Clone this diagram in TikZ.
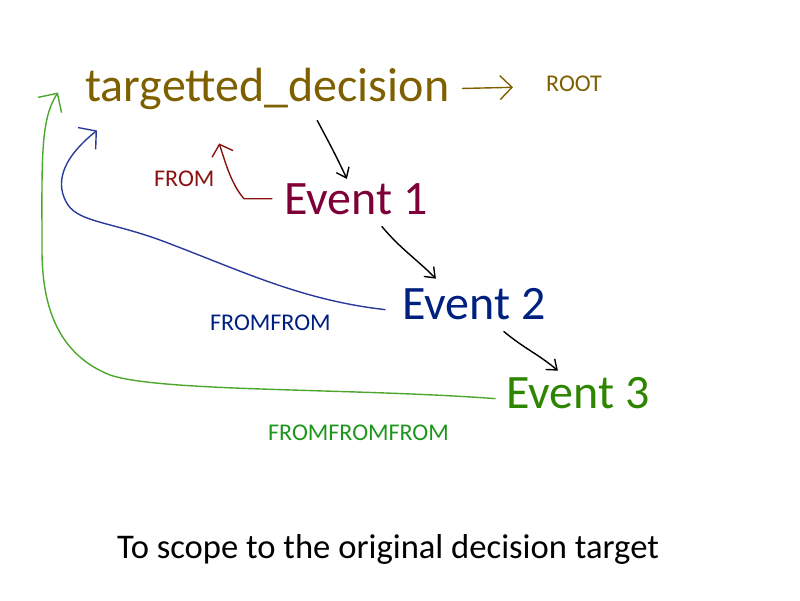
\documentclass[tikz,border=0pt]{standalone}
\usepackage{fontspec}
\setmainfont{Carlito}
\usetikzlibrary{arrows.meta}
\definecolor{Olive}{HTML}{7F6000}
\definecolor{Wine}{HTML}{7F0039}
\definecolor{Brick}{HTML}{8B1212}
\definecolor{Navy}{HTML}{00207F}
\definecolor{NavyLine}{HTML}{2A3A9A}
\definecolor{Leaf}{HTML}{2E8500}
\definecolor{LeafLbl}{HTML}{1E961E}
\definecolor{LeafLine}{HTML}{4CA82C}

\begin{document}
\begin{tikzpicture}[x=1pt, y=-1pt,
                big/.style={inner sep=0pt, anchor=base west, font=\fontsize{48}{57}\selectfont},
                lbl/.style={inner sep=0pt, anchor=base west, font=\fontsize{24}{29}\selectfont},
                pen/.style={line width=1.4pt, line cap=round, line join=round},
                hand/.style={pen, -{Straight Barb[length=9pt, width=14pt, line width=1.4pt]}}]
                \useasboundingbox (0,0) rectangle (800,600);

                \node[big, text=Olive] (target) at (85,101)  {targetted\_decision};
                \node[lbl, text=Olive] (root)   at (546,91)  {ROOT};
                \node[big, text=Wine]  (ev1)    at (284,214) {Event 1};
                \node[big, text=Navy]  (ev2)    at (402,319) {Event 2};
                \node[big, text=Leaf]  (ev3)    at (506,408) {Event 3};
                \node[lbl, text=Brick]   (lfrom)  at (154,186) {FROM};
                \node[lbl, text=Navy]    (lfrom2) at (210,330) {FROMFROM};
                \node[lbl, text=LeafLbl] (lfrom3) at (268,440) {FROMFROMFROM};
                \node[inner sep=0pt, anchor=base, font=\fontsize{34.6}{41}\selectfont]
                    (caption) at (388,558) {To scope to the original decision target};

                % chain of events
                \draw[hand, Olive, -{Straight Barb[length=12pt, width=24pt, line width=1.4pt]}]
                    ([xshift=13pt, yshift=0pt]target.east) -- ([xshift=-33pt, yshift=-4pt]root.west);
                \draw[hand] ([xshift=50pt, yshift=-11pt]target.south)
                    to[out=-62, in=115] ([xshift=-9pt, yshift=4pt]ev1.north);
                \draw[hand] ([xshift=26pt, yshift=-12pt]ev1.south)
                    to[out=-50, in=135] ([xshift=-38pt, yshift=9pt]ev2.north);
                \draw[hand] ([xshift=30pt, yshift=-12pt]ev2.south)
                    to[out=-40, in=140] ([xshift=-20pt, yshift=6pt]ev3.north);

                % back to the target
                \draw[hand, Brick, -{Straight Barb[length=10pt, width=22pt, line width=1.4pt]}]
                    ([xshift=-12pt]ev1.west) -- ++(-28,0)
                    .. controls (232,185) and (226,165) .. ([xshift=-48pt, yshift=-34pt]target.south);
                \draw[hand, NavyLine, -{Straight Barb[length=12pt, width=28pt, line width=1.4pt]}]
                    ([xshift=-17pt, yshift=-6pt]ev2.west)
                    .. controls (300,300) and (240,270) .. (160,240)
                    .. controls (110,222) and (80,222) .. (68,205)
                    .. controls (55,185) and (60,160) .. ([xshift=12pt, yshift=-21pt]target.south west);
                \draw[hand, LeafLine, -{Straight Barb[length=14pt, width=28pt, line width=1.4pt]}]
                    ([xshift=-11pt, yshift=-6pt]ev3.west)
                    .. controls (350,388) and (160,392) .. (110,375)
                    .. controls (60,355) and (42,310) .. (42,250)
                    .. controls (42,160) and (40,120) .. ([xshift=-27pt, yshift=-4pt]target.west);
            \end{tikzpicture}
\end{document}
